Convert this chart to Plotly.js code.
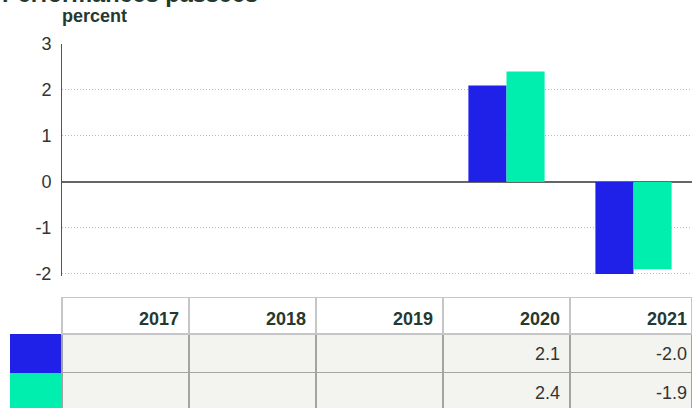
<!DOCTYPE html>
<html>
<head>
<meta charset="utf-8">
<script src="https://cdn.plot.ly/plotly-3.0.1.min.js"></script>
<style>html,body{margin:0;padding:0;background:#fff;overflow:hidden;width:692px;height:408px;}#chart{width:692px;height:420px;}</style>
</head>
<body>
<div id="chart"></div>
<script>
const categories = ['2017', '2018', '2019', '2020', '2021'];
const seriesA = [null, null, null, 2.1, -2.0];
const seriesB = [null, null, null, 2.4, -1.9];
const seriesColors = ['#1f20e8', '#00efae'];
const yTicks = [-2, -1, 0, 1, 2, 3];

const W = 692, H = 420;
const plotTop = 44, plotLeft = 62, plotBottom = 275.8;
const colW = 127;
const txt = '#24392f';
const FONT = 'Liberation Sans, Arial, sans-serif';
const py = p => (H - p) / H;

function fmt(v) { return v === null ? '' : v.toFixed(1); }

const tableTop = 297.5;
const headerH = 36.5, rowH = 38.5;
const gridCols = categories.map(() => '#a3a3a3');
const headCols = categories.map(() => '#c6c6c6');

const traces = [
  {type: 'bar', x: categories, y: seriesA, marker: {color: seriesColors[0]}, hoverinfo: 'skip', showlegend: false},
  {type: 'bar', x: categories, y: seriesB, marker: {color: seriesColors[1]}, hoverinfo: 'skip', showlegend: false},
  {
    type: 'table',
    domain: {x: [10 / W, 1], y: [0, py(tableTop)]},
    columnwidth: [52, colW, colW, colW, colW, colW - 5],
    header: {
      values: [''].concat(categories.map(() => '')),
      height: headerH,
      fill: {color: 'white'},
      line: {color: ['rgba(0,0,0,0)'].concat(headCols), width: 1.5},
      font: {family: FONT, size: 18, color: txt}
    },
    cells: {
      values: [['', '']].concat(categories.map(() => ['', ''])),
      height: rowH,
      fill: {color: [seriesColors].concat(categories.map(() => ['#f3f3ef', '#f3f3ef']))},
      line: {color: ['rgba(0,0,0,0)'].concat(gridCols), width: 1.5},
      font: {family: FONT, size: 18, color: '#333'}
    }
  }
];

// table texts: right edge of each category column, minus padding
const cellAnn = [];
categories.forEach((c, i) => {
  const xr = (plotLeft + (i + 1) * colW - 8) / W;
  cellAnn.push({text: c, xref: 'paper', yref: 'paper', x: xr, y: py(tableTop + 21.5), xanchor: 'right', yanchor: 'middle',
    showarrow: false, font: {family: FONT, size: 18, color: txt, weight: 'bold'}});
  [seriesA, seriesB].forEach((s, r) => {
    const t = fmt(s[i]);
    if (t !== '') {
      cellAnn.push({text: t, xref: 'paper', yref: 'paper', x: xr, y: py(tableTop + headerH + rowH * r + 19.5 + r),
        xanchor: 'right', yanchor: 'middle', showarrow: false,
        font: {family: FONT, size: 18, color: '#333'}});
    }
  });
});

const layout = {
  width: W, height: H,
  margin: {l: 0, r: 0, t: 0, b: 0, pad: 0},
  paper_bgcolor: 'white', plot_bgcolor: 'white',
  barmode: 'group', bargap: 0.4, bargroupgap: 0,
  showlegend: false,
  font: {family: FONT, color: txt},
  xaxis: {
    domain: [plotLeft / W, 1],
    type: 'category', range: [-0.5, 4.4606], showticklabels: false, showgrid: false,
    zeroline: false, showline: false, ticks: '', fixedrange: true
  },
  yaxis: {
    domain: [py(plotBottom), py(plotTop)],
    range: [-2.04, 3], tickvals: yTicks, ticktext: yTicks.map(String),
    showgrid: true, gridcolor: '#bdbdbd', griddash: '1px,2px', gridwidth: 1,
    zeroline: true, zerolinecolor: '#666', zerolinewidth: 1.5,
    showline: true, linecolor: '#555', linewidth: 1,
    ticks: '', ticklabelstandoff: 6,
    tickfont: {family: FONT, size: 18, color: '#333'}, fixedrange: true
  },
  annotations: [
    {
      text: 'Performances passées', xref: 'paper', yref: 'paper',
      x: 0, xanchor: 'left', y: py(9), yanchor: 'bottom',
      showarrow: false, font: {family: FONT, size: 23.5, color: txt, weight: 'bold'}
    },
    {
      text: 'percent', xref: 'paper', yref: 'paper',
      x: (plotLeft - 2) / W, xanchor: 'left', y: py(16.5), yanchor: 'middle',
      showarrow: false, font: {family: FONT, size: 18, color: txt, weight: 'bold'}
    }
  ].concat(cellAnn)
};

Plotly.newPlot('chart', traces, layout, {staticPlot: true, displayModeBar: false});
</script>
</body>
</html>
